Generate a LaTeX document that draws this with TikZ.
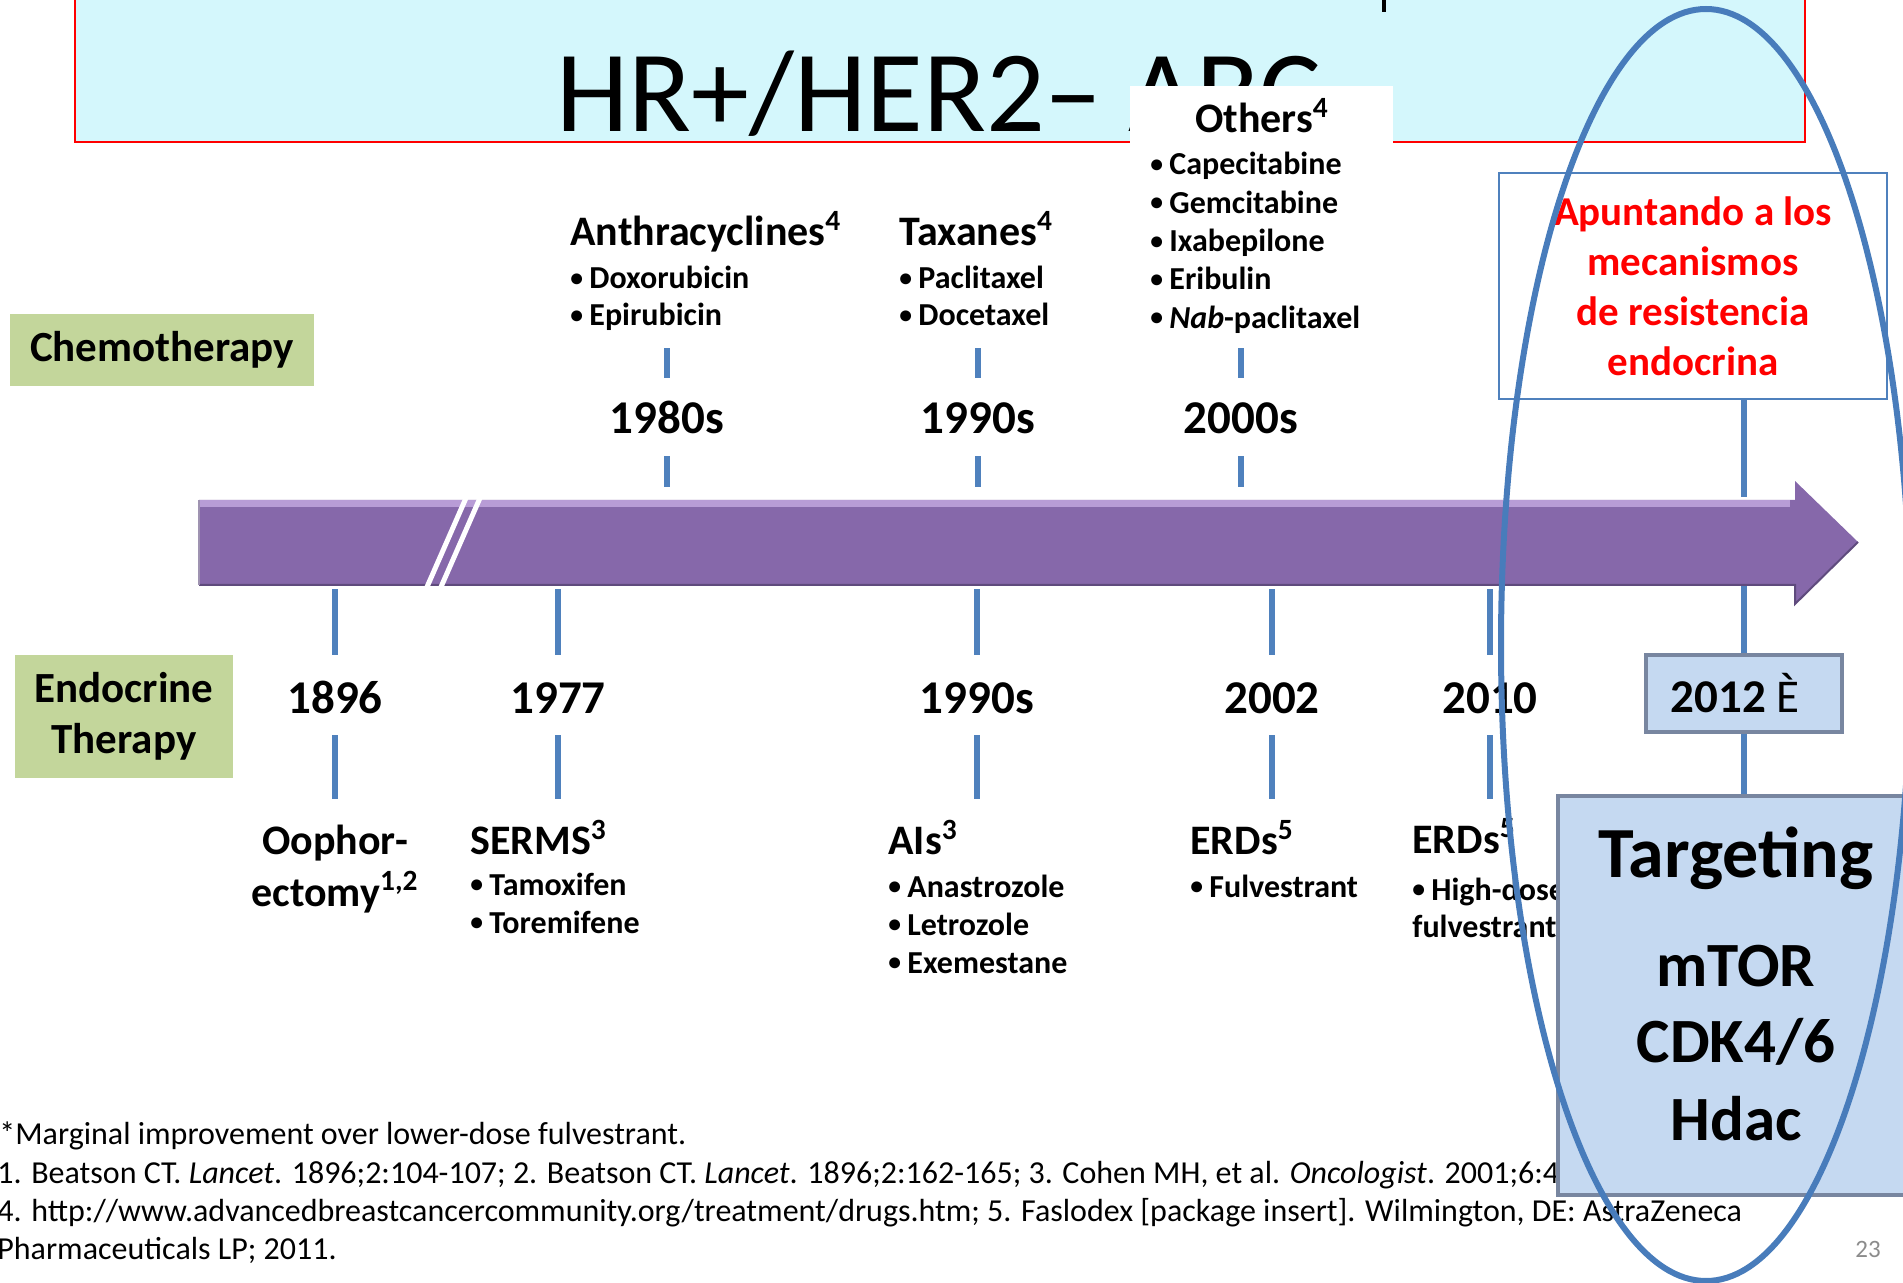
\documentclass[tikz,border=0pt]{standalone}
\usepackage{fontspec}
\setmainfont{Carlito}
\usetikzlibrary{positioning,calc}

\definecolor{titlecyan}{RGB}{212,247,252}
\definecolor{labelgreen}{RGB}{195,214,155}
\definecolor{barpurple}{RGB}{134,104,170}
\definecolor{barlight}{RGB}{184,156,214}
\definecolor{bardark}{RGB}{95,75,125}
\definecolor{tickblue}{RGB}{79,129,189}
\definecolor{ringblue}{RGB}{72,124,187}
\definecolor{boxblue}{RGB}{197,217,241}
\definecolor{boxedge}{RGB}{120,134,160}
\definecolor{pagegray}{RGB}{140,140,140}

\newcommand{\itm}{\makebox[9.5pt][l]{\raisebox{0.08em}{\scalebox{0.8}{\textbullet}}}}

\begin{document}
\begin{tikzpicture}[
    x=0.5pt, y=-0.5pt,
    yeartick/.style={draw=tickblue, line width=3pt},
    sidetag/.style={fill=labelgreen, inner sep=0pt, align=center, font=\bfseries\fontsize{21.5}{25.5}\selectfont},
    yearlbl/.style={anchor=base, inner sep=0pt, text height=17pt, text depth=0pt, font=\bfseries\fontsize{23.5}{28}\selectfont},
    grphead/.style={anchor=base west, inner sep=0pt, font=\bfseries\fontsize{21}{25.5}\selectfont},
    drugitem/.style={anchor=base west, inner sep=0pt, font=\bfseries\fontsize{16}{19}\selectfont},
    note/.style={anchor=base west, inner sep=0pt, font=\fontsize{16}{19}\selectfont},
    bevel/.style={fill=boxblue, draw=boxedge, line width=1.8pt, inner sep=0pt},
    tgttxt/.style={anchor=base, inner sep=0pt, font=\bfseries\fontsize{31.5}{38}\selectfont}
]
    \useasboundingbox (0,0) rectangle (1903,1283);

    % Title
    \draw[red, line width=1pt, fill=titlecyan] (75,-10) rectangle (1805,142);
    \draw[line width=2pt] (1384,0) -- (1384,12);
    \node[anchor=base west, inner sep=0pt, font=\fontsize{58}{70}\selectfont] (ttl) at (556,132) {HR+/HER2– ABC};

    % Side labels
    \node[sidetag, minimum width=152pt, minimum height=36pt] (chemo) at (162,350) {Chemotherapy};
    \node[sidetag, minimum width=109pt, minimum height=61.5pt] (endo) at (124,716.5) {Endocrine\\Therapy};

    % Chemotherapy groups
    \node[grphead] (anth) at (570,246) {Anthracyclines\textsuperscript{4}};
    \foreach \d [count=\k from 0] in {Doxorubicin, Epirubicin}
        \node[drugitem] (a\k) at (570,289+37*\k) {\itm\d};
    \node[grphead] (taxa) at (899,246) {Taxanes\textsuperscript{4}};
    \foreach \d [count=\k from 0] in {Paclitaxel, Docetaxel}
        \node[drugitem] (t\k) at (899,289+37*\k) {\itm\d};
    \fill[white] (1130,86) rectangle (1393,345);
    \node[grphead, anchor=base] (othr) at (1262,133) {Others\textsuperscript{4}};
    \foreach \d [count=\k from 0] in {Capecitabine, Gemcitabine, Ixabepilone, Eribulin, {\textit{Nab}-paclitaxel}}
        \node[drugitem] (o\k) at (1150,175+38.3*\k) {\itm\d};

    % Timeline bar
    \fill[barpurple] (199,500) -- (1795,500) -- (1795,481) -- (1858,542) -- (1795,604) -- (1795,585) -- (199,585) -- cycle;
    \fill[barlight] (199,500) rectangle (1790,507);
    \draw[bardark, line width=1pt] (199,585) -- (1795,585) -- (1795,604) -- (1858,542);
    \draw[bardark!60, line width=1pt] (199,500) -- (199,585);
    \draw[white, line width=2.5pt] (466,498) -- (427,587);
    \draw[white, line width=2.5pt] (480,498) -- (441,587);

    % Years above
    \foreach \n/\x/\t in {c80/667/1980s, c90/978/1990s, c00/1241/2000s} {
        \node[yearlbl] (\n) at (\x,434) {\t};
        \draw[yeartick] (\n.north) ++(0,-22) -- ++(0,-30);
        \draw[yeartick] (\n.south) ++(0,22) -- ++(0,31);
    }

    % Years below
    \foreach \n/\x/\t in {e96/335/1896, e77/558/1977, e90/977/1990s, e02/1272/2002, e10/1490/2010} {
        \node[yearlbl] (\n) at (\x,714) {\t};
        \draw[yeartick] (\n.north) ++(0,-25) -- ++(0,-66);
        \draw[yeartick] (\n.south) ++(0,21) -- ++(0,64);
    }

    % Endocrine groups
    \node[grphead, anchor=base] (ooph) at (335,855) {Oophor-};
    \node[grphead, anchor=base] (ecto) at (335,906) {ectomy\textsuperscript{1,2}};
    \node[grphead] (serm) at (470,855) {SERMS\textsuperscript{3}};
    \foreach \d [count=\k from 0] in {Tamoxifen, Toremifene}
        \node[drugitem] (s\k) at (470,895+38*\k) {\itm\d};
    \node[grphead] (ais) at (888,855) {AIs\textsuperscript{3}};
    \foreach \d [count=\k from 0] in {Anastrozole, Letrozole, Exemestane}
        \node[drugitem] (i\k) at (888,897+38*\k) {\itm\d};
    \node[grphead] (erdA) at (1190,855) {ERDs\textsuperscript{5}};
    \node[drugitem] (f0) at (1190,897) {\itm Fulvestrant};
    \node[grphead] (erdB) at (1412,853) {ERDs\textsuperscript{5}};
    \node[drugitem] (h0) at (1412,900) {\itm High-dose};
    \node[drugitem] (h1) at (1412,937) {fulvestrant\textsuperscript{*}};

    % Footnotes
    \node[note] (n1) at (-1,1144) {*Marginal improvement over lower-dose fulvestrant.};
    \node[note] (n2) at (-3,1183) {1. Beatson CT. \textit{Lancet}. 1896;2:104-107; 2. Beatson CT. \textit{Lancet}. 1896;2:162-165; 3. Cohen MH, et al. \textit{Oncologist}. 2001;6:4-};
    \node[note] (n3) at (-3,1221) {4. http://www.advancedbreastcancercommunity.org/treatment/drugs.htm; 5. Faslodex [package insert]. Wilmington, DE: AstraZeneca};
    \node[note] (n4) at (-3,1259) {Pharmaceuticals LP; 2011.};
    \node[anchor=base, inner sep=0pt, text=pagegray, font=\fontsize{12.5}{15}\selectfont] (pg) at (1868,1257) {23};

    % 2012 and targeting
    \node[draw=tickblue, line width=1pt, minimum width=194pt, minimum height=113pt, align=center,
          text=red, font=\bfseries\fontsize{20.5}{25}\selectfont] (res) at (1693,286)
          {Apuntando a los\\mecanismos\\de resistencia\\endocrina};
    \node[bevel, minimum width=98pt, minimum height=38.5pt, font=\bfseries\fontsize{23.5}{28}\selectfont] (e12) at (1744,693.5) {2012 {\mdseries È}\rule{9pt}{0pt}};
    \node[bevel, minimum width=178pt, minimum height=199.5pt] (tgt) at (1736,995.5) {};
    \draw[yeartick] (res.south -| e12.north) -- ++(0,97);
    \draw[yeartick] (e12.north) -- ++(0,-67);
    \draw[yeartick] (e12.south) -- (e12.south |- tgt.north);
    \node[tgttxt, font=\bfseries\fontsize{36}{43}\selectfont] (tg0) at (1736,877) {Targeting};
    \node[tgttxt] (tg1) at (1736,986) {mTOR};
    \node[tgttxt] (tg2) at (1736,1062) {CDK4/6};
    \node[tgttxt] (tg3) at (1736,1140) {Hdac};

    % Ring
    \draw[ringblue, line width=3pt] (1706,645) ellipse [x radius=205, y radius=636];
\end{tikzpicture}
\end{document}
